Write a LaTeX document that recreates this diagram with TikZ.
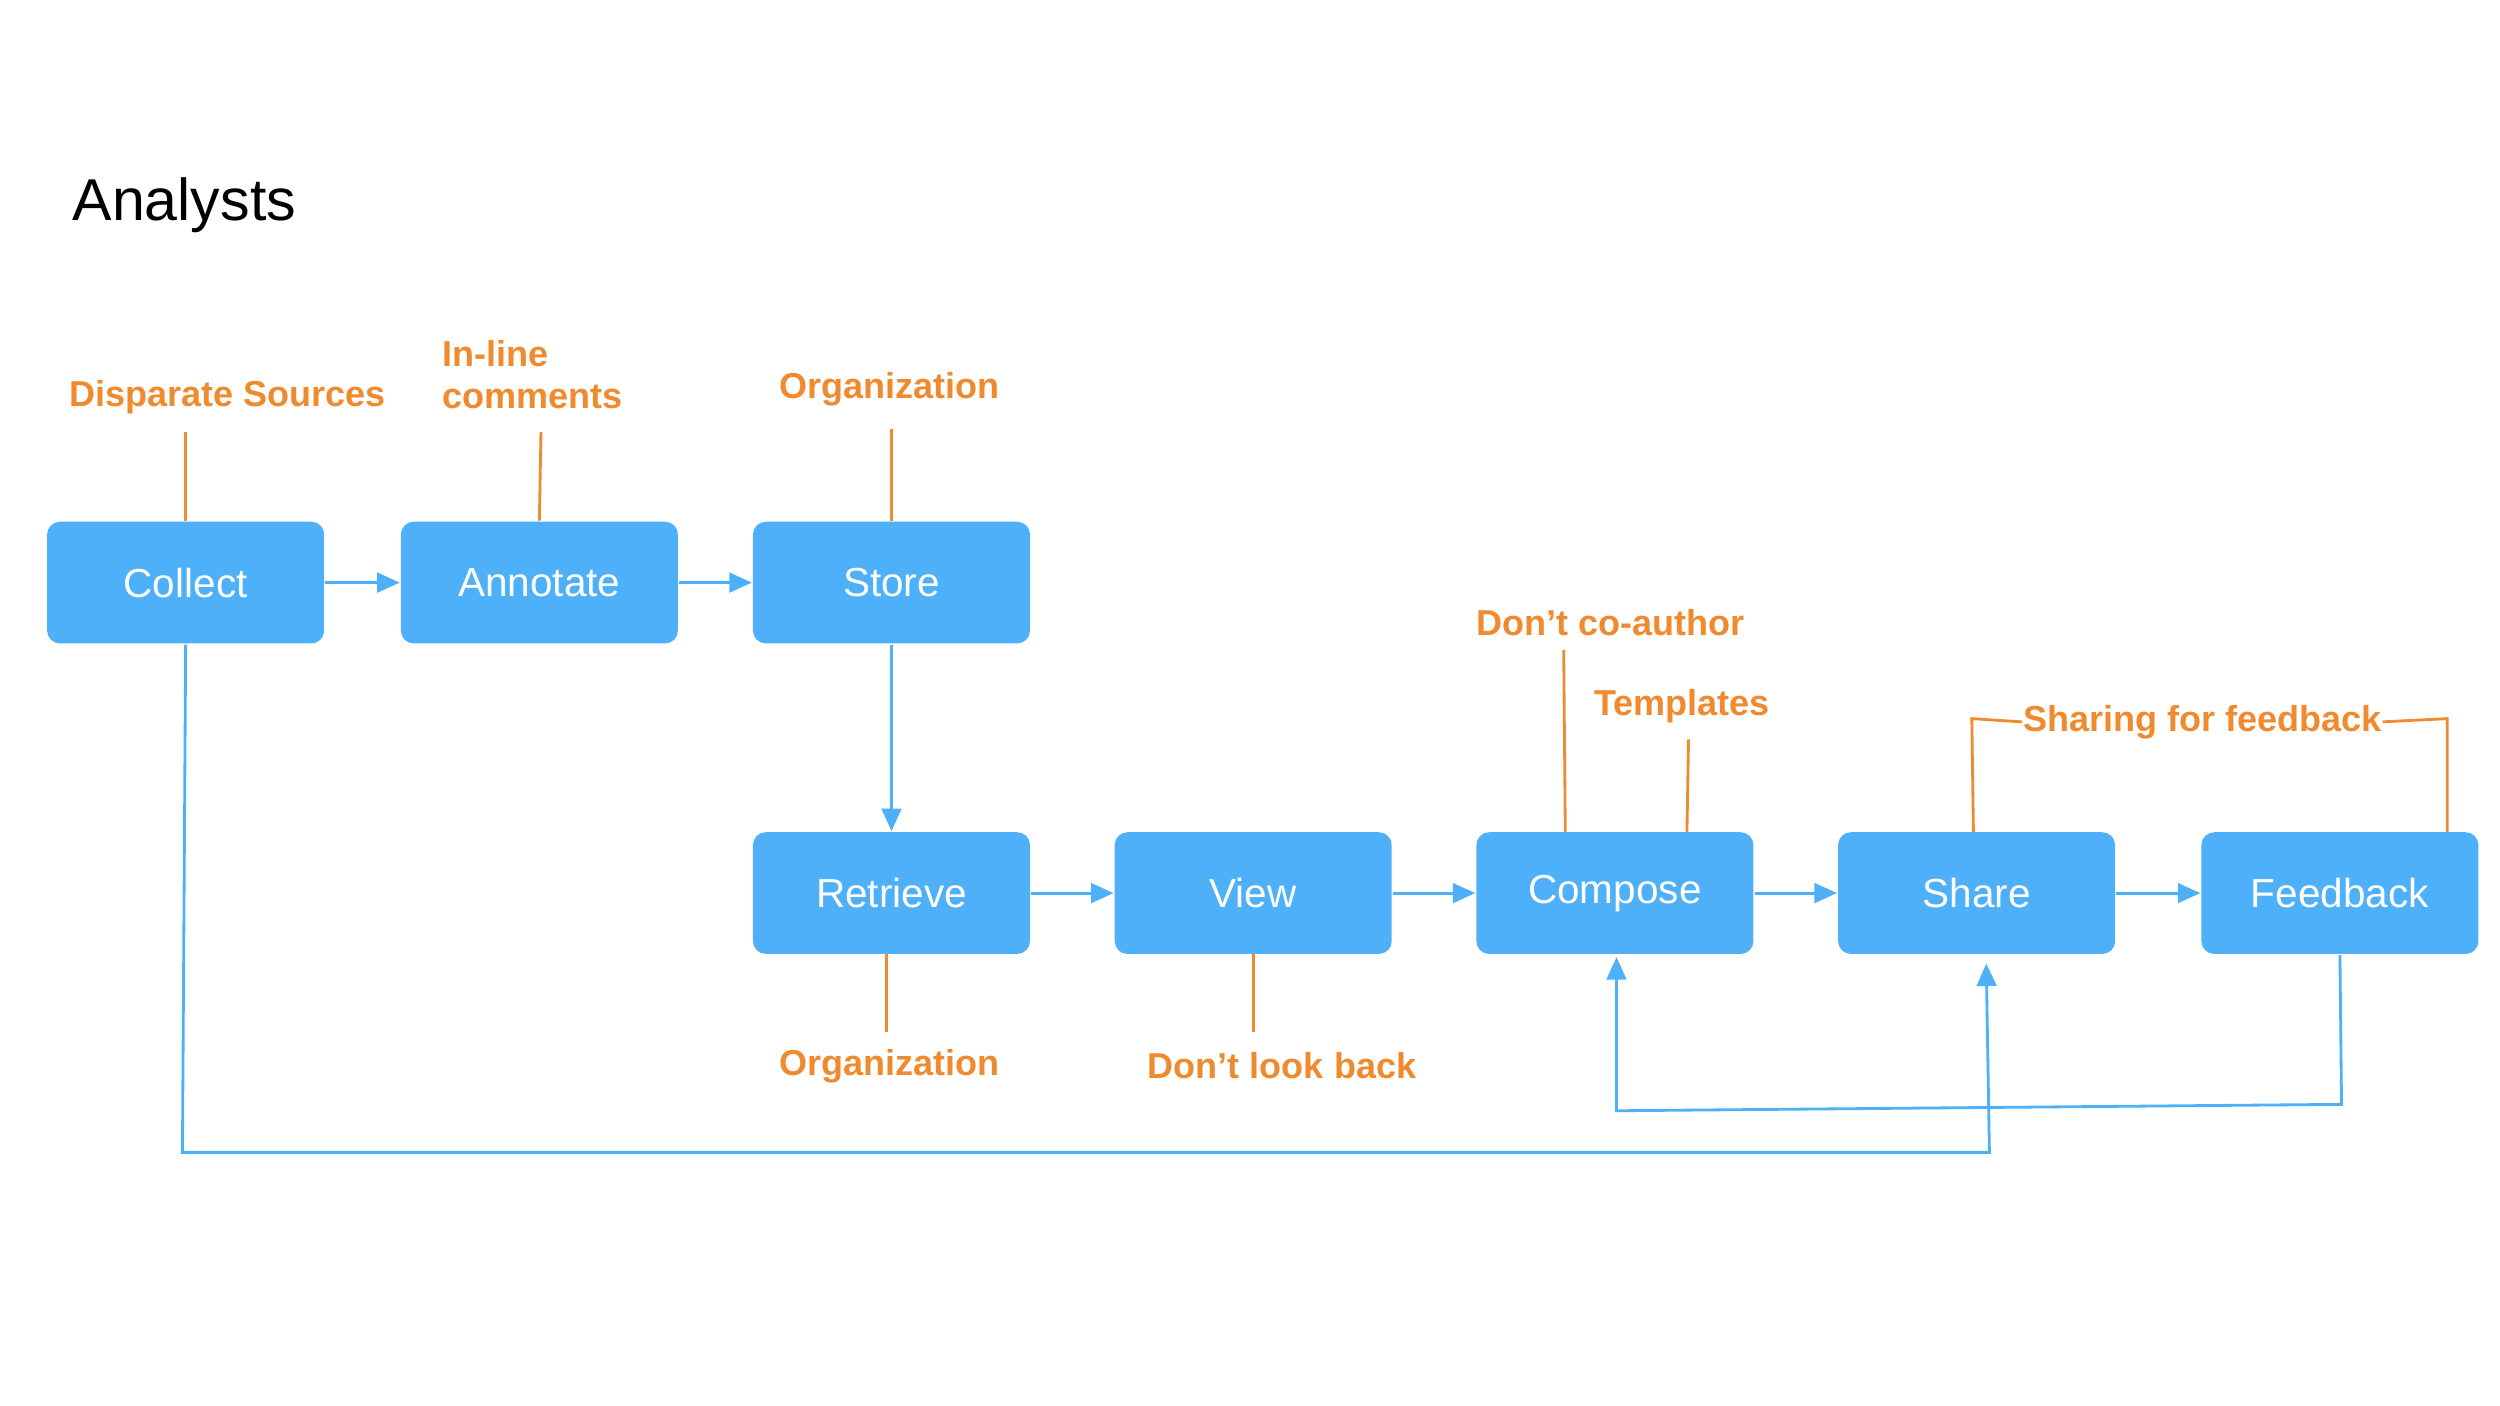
\documentclass[tikz,border=0pt]{standalone}
\usepackage{fontspec}
\setmainfont{Liberation Sans}
\usetikzlibrary{arrows.meta,positioning}
\definecolor{boxblue}{HTML}{4DB0F9}
\definecolor{noteorange}{HTML}{EF8A2E}
\tikzset{
    % arrow tip
    >={Triangle[length=4pt,width=3.5pt]},
    % step boxes
    stage/.style={
           rectangle,
           rounded corners=0.8mm,
           fill=boxblue,
           text=white,
           minimum width=1.73cm,
           minimum height=0.76cm,
           font=\fontsize{7.2}{8}\selectfont,
           },
    note/.style={
           text=noteorange,
           font=\bfseries\fontsize{6.4}{7.6}\selectfont,
           inner sep=0pt,
           },
    flow/.style={
           ->,
           boxblue,
           line width=0.5pt,
           },
    tie/.style={
           noteorange,
           line width=0.5pt,
           }
}
\begin{document}
\begin{tikzpicture}[x=0.01cm,y=-0.01cm]
  	\useasboundingbox (0,0) rectangle (1562,878);
  	\node[anchor=west,font=\fontsize{10.5}{12}\selectfont] (title) at (33,128) {Analysts};
  	% first row
  	\node[stage] (collect) at (116,364) {Collect};
  	\node[stage] (annotate) at (337,364) {Annotate};
  	\node[stage] (store) at (557,364) {Store};
  	% second row
  	\node[stage] (retrieve) at (557,558) {Retrieve};
  	\node[stage] (view) at (783,558) {View};
  	\node[stage] (compose) at (1009,558) {Compose};
  	\node[stage] (share) at (1235,558) {Share};
  	\node[stage] (feedback) at (1462,558) {Feedback};
  	% notes
  	\node[note] (sources) at (142,248) {Disparate Sources};
  	\node[note,anchor=west,align=left] (inline) at (276,234) {In-line\\comments};
  	\node[note] (org) at (556,243) {Organization};
  	\node[note] (coauthor) at (1006,389) {Don’t co-author};
  	\node[note] (templates) at (1051,441) {Templates};
  	\node[note] (sharing) at (1376,451) {Sharing for feedback};
  	\node[note] (orgb) at (556,666) {Organization};
  	\node[note] (lookback) at (801,666) {Don’t look back};
  	% note ties
  	\draw [tie] (116,270) -- (collect.north);
  	\draw [tie] (338,270) -- (annotate.north);
  	\draw [tie] (557,268) -- (store.north);
  	\draw [tie] (977,406) -- (978,520);
  	\draw [tie] (1055,462) -- (1054,520);
  	\draw [tie] (1233,520) -- (1232,449) -- (sharing.west);
  	\draw [tie] (sharing.east) -- (1529,449) -- (1529,520);
  	\draw [tie] (554,596) -- (554,645);
  	\draw [tie] (783,596) -- (783,645);
  	% flow
  	\draw [flow] (collect) -- (annotate);
  	\draw [flow] (annotate) -- (store);
  	\draw [flow] (store) -- (retrieve);
  	\draw [flow] (retrieve) -- (view);
  	\draw [flow] (view) -- (compose);
  	\draw [flow] (compose) -- (share);
  	\draw [flow] (share) -- (feedback);
  	\draw [flow] (collect.south) -- (114,720) -- (1243,720) -- (1241,602);
  	\draw [flow] (feedback.south) -- (1463,690) -- (1010,694) -- (1010,598);
\end{tikzpicture}
\end{document}
